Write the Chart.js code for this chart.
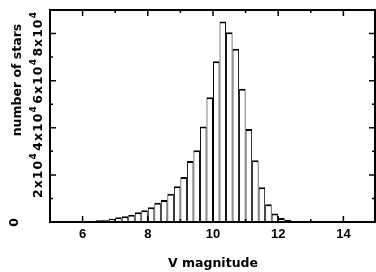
<!DOCTYPE html>
<html>
<head>
<meta charset="utf-8">
<script src="https://cdn.jsdelivr.net/npm/chart.js@4"></script>
<style>
html,body{margin:0;padding:0;background:#fff;}
canvas{display:block;}
</style>
</head>
<body>
<canvas id="c" width="376" height="272"></canvas>
<script>
// ---- data ----
const binLowEdges = [5.8,6.0,6.2,6.4,6.6,6.8,7.0,7.2,7.4,7.6,7.8,8.0,8.2,8.4,8.6,8.8,9.0,9.2,9.4,9.6,9.8,10.0,10.2,10.4,10.6,10.8,11.0,11.2,11.4,11.6,11.8,12.0,12.2,12.4,12.6,12.8];
const starCounts  = [100,200,400,700,1000,1400,2000,2400,3100,4100,5000,6300,8200,9300,12000,15200,19100,25900,30500,40500,53000,68200,85100,80600,73500,56600,39500,26200,14700,7500,3600,1700,900,400,200,100];
const binWidth = 0.2;
const xTickValues = [6,8,10,12,14];
const xMinorTicks = [5,7,9,11,13,15];
const yTickValues = [0,20000,40000,60000,80000];
const yTickLabels = ['0','2x10^4','4x10^4','6x10^4','8x10^4'];
const yMinorTicks = [10000,30000,50000,70000,90000];
const xTitle = 'V magnitude';
const yTitle = 'number of stars';

const points = binLowEdges.map((lo,i)=>({x: lo + binWidth/2, y: starCounts[i]}));

const FONT_T = 'bold 12.5px "DejaVu Sans"';

const framePlugin = {
  id: 'frame',
  afterDraw(chart) {
    const ctx = chart.ctx;
    const a = chart.chartArea;
    const xs = chart.scales.x, ys = chart.scales.y;
    ctx.save();
    ctx.strokeStyle = '#000';
    ctx.lineWidth = 2;
    ctx.strokeRect(a.left, a.top, a.right - a.left - 1, a.bottom - a.top);
    ctx.lineWidth = 1.5;
    ctx.beginPath();
    const xt = (v, len) => {
      const p = xs.getPixelForValue(v);
      ctx.moveTo(p, a.top); ctx.lineTo(p, a.top + len);
      ctx.moveTo(p, a.bottom); ctx.lineTo(p, a.bottom - len);
    };
    const yt = (v, len) => {
      const p = ys.getPixelForValue(v);
      ctx.moveTo(a.left, p); ctx.lineTo(a.left + len, p);
      ctx.moveTo(a.right - 1, p); ctx.lineTo(a.right - 1 - len, p);
    };
    xTickValues.forEach(v => xt(v, 6));
    xMinorTicks.forEach(v => xt(v, 3));
    yTickValues.forEach(v => yt(v, 6));
    yMinorTicks.forEach(v => yt(v, 3));
    ctx.stroke();

    // y tick labels (rotated, with superscript exponent)
    ctx.fillStyle = '#000';
    ctx.textBaseline = 'alphabetic';
    ctx.textAlign = 'left';
    yTickValues.forEach((v, i) => {
      const p = ys.getPixelForValue(v);
      const parts = yTickLabels[i].split('^');
      ctx.save();
      ctx.letterSpacing = '1px';
      ctx.font = FONT_T;
      const w1 = ctx.measureText(parts[0]).width;
      let w2 = 0;
      if (parts[1]) { ctx.font = 'bold 8.5px "DejaVu Sans"'; w2 = ctx.measureText(parts[1]).width + 1; }
      const total = w1 + w2;
      const baseX = parts[1] ? 42 : 17.5;
      ctx.translate(baseX, p);
      ctx.rotate(-Math.PI / 2);
      ctx.font = FONT_T;
      ctx.fillText(parts[0], -total / 2, 0);
      if (parts[1]) {
        ctx.font = 'bold 8.5px "DejaVu Sans"';
        ctx.fillText(parts[1], -total / 2 + w1 + 0.5, -6);
      }
      ctx.restore();
    });

    // y title
    ctx.save();
    ctx.font = FONT_T;
    ctx.textAlign = 'center';
    ctx.translate(21, 80);
    ctx.rotate(-Math.PI / 2);
    ctx.fillText(yTitle, 0, 0);
    ctx.restore();

    // x title
    ctx.font = FONT_T;
    ctx.textAlign = 'center';
    ctx.fillText(xTitle, (a.left + a.right) / 2, 266.5);
    ctx.restore();
  }
};

new Chart(document.getElementById('c'), {
  type: 'bar',
  data: {
    datasets: [{
      data: points,
      backgroundColor: '#fff',
      borderColor: '#000',
      borderWidth: {top: 2, left: 1, right: 1, bottom: 0},
      barPercentage: 1,
      categoryPercentage: 1,
      inflateAmount: 0
    }]
  },
  options: {
    responsive: false,
    animation: false,
    layout: {padding: {top: 10, right: 0, left: 0, bottom: 0}},
    plugins: {legend: {display: false}, tooltip: {enabled: false}},
    scales: {
      x: {
        type: 'linear',
        min: 5, max: 15,
        offset: false,
        grid: {display: false, drawTicks: false, offset: false},
        border: {display: false},
        afterBuildTicks: s => { s.ticks = xTickValues.map(v => ({value: v})); },
        afterFit: s => { s.height = 50; },
        ticks: {
          color: '#000',
          padding: 5,
          maxRotation: 0,
          autoSkip: false,
          font: {family: '"Liberation Sans"', size: 13, weight: 'bold'}
        }
      },
      y: {
        type: 'linear',
        min: 0, max: 90000,
        grid: {display: false, drawTicks: false},
        border: {display: false},
        ticks: {display: false},
        afterFit: s => { s.width = 50; }
      }
    }
  },
  plugins: [framePlugin]
});
</script>
</body>
</html>
